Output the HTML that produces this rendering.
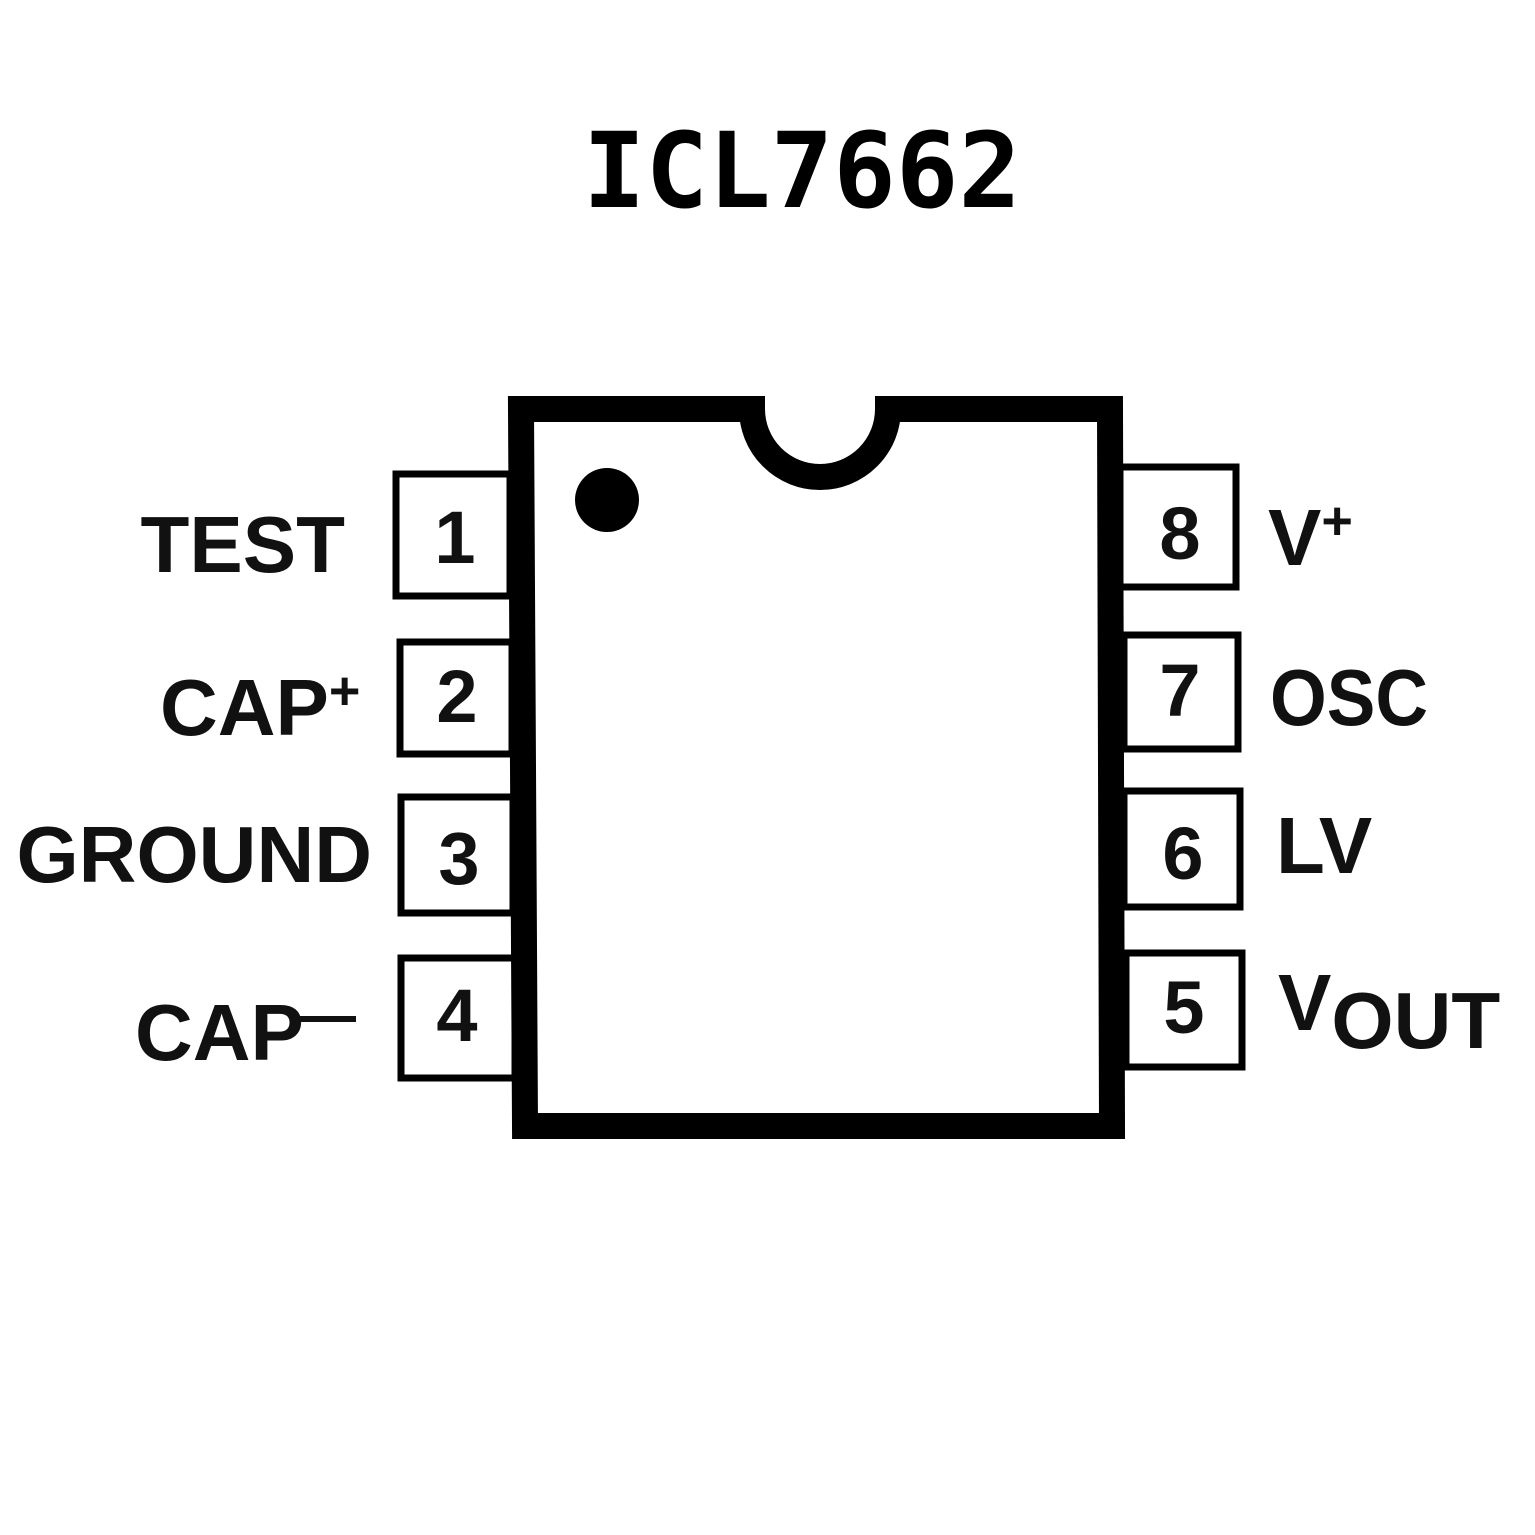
<!DOCTYPE html>
<html><head><meta charset="utf-8"><style>
html,body{margin:0;padding:0;background:#fff;}
svg{display:block;}
</style></head><body>
<svg width="1535" height="1535" viewBox="0 0 1535 1535" xmlns="http://www.w3.org/2000/svg">
<rect width="1535" height="1535" fill="#fff"/>
<text x="802" y="207" text-anchor="middle" font-family="DejaVu Sans Mono, monospace" font-weight="bold" font-size="104" fill="#000">ICL7662</text>
<g fill="none" stroke="#000" stroke-width="7">
<rect x="396" y="474" width="114" height="122"/>
<rect x="400" y="642" width="112" height="112"/>
<rect x="401" y="797" width="112" height="116"/>
<rect x="401" y="958" width="114" height="120"/>
<rect x="1120" y="467" width="116" height="120"/>
<rect x="1124" y="635" width="114" height="114"/>
<rect x="1124" y="791" width="116" height="116"/>
<rect x="1126" y="953" width="116" height="114"/>
</g>
<path d="M521,409 L752,409 A68,68 0 0 0 888,409 L1110,409 L1112,1126 L525,1126 Z" fill="#fff" stroke="#000" stroke-width="26"/>
<circle cx="607" cy="500" r="32" fill="#000"/>
<g font-family="Liberation Sans, sans-serif" font-weight="bold" font-size="74" fill="#111" text-anchor="middle">
<text x="455" y="563">1</text>
<text x="457" y="722">2</text>
<text x="459" y="884">3</text>
<text x="457" y="1041">4</text>
<text x="1180" y="559">8</text>
<text x="1180" y="716">7</text>
<text x="1183" y="879">6</text>
<text x="1184" y="1033">5</text>
</g>
<g font-family="Liberation Sans, sans-serif" font-weight="bold" font-size="80" fill="#111">
<text x="345" y="572" text-anchor="end">TEST</text>
<text x="160" y="735">CAP<tspan font-size="54" dy="-26">+</tspan></text>
<text x="372" y="882" text-anchor="end">GROUND</text>
<text x="135" y="1060">CAP</text>
<rect x="300" y="1016" width="56" height="6" fill="#111"/>
<text x="1268" y="565">V<tspan font-size="54" dy="-26">+</tspan></text>
<text x="1270" y="725" textLength="158" lengthAdjust="spacingAndGlyphs">OSC</text>
<text x="1276" y="873">LV</text>
<text x="1278" y="1030">V<tspan dy="18">OUT</tspan></text>
</g>
</svg>
</body></html>
